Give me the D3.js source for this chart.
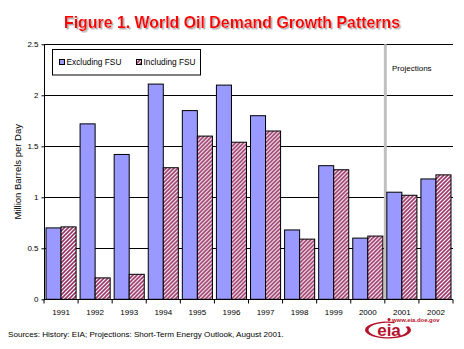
<!DOCTYPE html>
<html><head><meta charset="utf-8">
<script src="https://cdn.jsdelivr.net/npm/d3@7/dist/d3.min.js"></script>
<style>body{margin:0;background:#fff}svg{display:block}</style>
</head><body>
<script>
const years = ["1991","1992","1993","1994","1995","1996","1997","1998","1999","2000","2001","2002"];
const excludingFSU = [0.70,1.72,1.42,2.11,1.85,2.10,1.80,0.68,1.31,0.60,1.05,1.18];
const includingFSU = [0.71,0.21,0.245,1.29,1.60,1.54,1.65,0.59,1.27,0.62,1.02,1.22];
const seriesNames = ["Excluding FSU","Including FSU"];
const yTicks = [0,0.5,1,1.5,2,2.5];
const projectionStart = "2001";

const W=464,H=349;
const svg=d3.select("body").append("svg").attr("width",W).attr("height",H);
const defs=svg.append("defs");
const pat=defs.append("pattern").attr("id","hatch").attr("patternUnits","userSpaceOnUse").attr("width",4).attr("height",4);
pat.append("rect").attr("width",4).attr("height",4).attr("fill","#fff");
pat.append("path").attr("d","M-1,1 l2,-2 M0,4 l4,-4 M3,5 l2,-2").attr("stroke","#993366").attr("stroke-width",1.6);
const flt=defs.append("filter").attr("id","shadow").attr("x","-5%").attr("y","-20%").attr("width","110%").attr("height","140%");
flt.append("feDropShadow").attr("dx",1.5).attr("dy",1.5).attr("stdDeviation",0).attr("flood-color","#b0b0b0").attr("flood-opacity",1);

const L=44,R=453,T=44.3,B=299.3;
const x=d3.scaleBand().domain(years).range([L,R]).padding(0);
const x1=d3.scaleBand().domain(seriesNames).range([2,x.bandwidth()-2]);
const y=d3.scaleLinear().domain([0,2.5]).range([B,T]);
const font="'Liberation Sans', Arial, sans-serif";

// title
const title="Figure 1. World Oil Demand Growth Patterns";
svg.append("text").attr("x",232).attr("y",28).attr("text-anchor","middle").attr("font-family",font).attr("font-weight","bold").attr("font-size",15.9).attr("fill","#ff0000").attr("filter","url(#shadow)").text(title);

// gridlines
svg.append("g").selectAll("line").data(yTicks.filter(d=>d>0)).join("line")
  .attr("x1",L).attr("x2",R).attr("y1",d=>Math.round(y(d))+0.5).attr("y2",d=>Math.round(y(d))+0.5)
  .attr("stroke","#000").attr("stroke-width",1);

// projection divider
svg.append("line").attr("x1",x(projectionStart)+0.5).attr("x2",x(projectionStart)+0.5).attr("y1",T).attr("y2",B)
  .attr("stroke","#c0c0c0").attr("stroke-width",3);

// bars
const groups=svg.append("g").selectAll("g").data(years).join("g").attr("transform",d=>`translate(${x(d)},0)`);
groups.append("rect").attr("x",x1(seriesNames[0])).attr("width",x1.bandwidth())
  .attr("y",(d,i)=>y(excludingFSU[i])).attr("height",(d,i)=>y(0)-y(excludingFSU[i]))
  .attr("fill","#9999ff").attr("stroke","#000").attr("stroke-width",1);
groups.append("rect").attr("x",x1(seriesNames[1])).attr("width",x1.bandwidth())
  .attr("y",(d,i)=>y(includingFSU[i])).attr("height",(d,i)=>y(0)-y(includingFSU[i]))
  .attr("fill","url(#hatch)").attr("stroke","#000").attr("stroke-width",1);

// axes
const yAx=svg.append("g").attr("transform",`translate(${L+0.5},0)`)
  .call(d3.axisLeft(y).tickValues(yTicks).tickSize(3).tickPadding(3).tickFormat(d3.format("")));
yAx.select(".domain").attr("d",`M0,${T}V${B}`);
yAx.selectAll("text").attr("font-family",font).attr("font-size",8);

const xAx=svg.append("g").attr("transform",`translate(0,${Math.round(B)+0.5})`);
xAx.append("line").attr("x1",L).attr("x2",R).attr("stroke","#000");
xAx.selectAll("line.t").data(years.concat(["end"])).join("line").attr("class","t")
  .attr("x1",(d,i)=>i<years.length?x(d):R).attr("x2",(d,i)=>i<years.length?x(d):R)
  .attr("y1",0).attr("y2",4).attr("stroke","#000");
xAx.selectAll("text").data(years).join("text").attr("x",d=>x(d)+x.bandwidth()/2).attr("y",15)
  .attr("text-anchor","middle").attr("font-family",font).attr("font-size",8).text(d=>d);

// y label
svg.append("text").attr("transform",`translate(21,${(T+B)/2}) rotate(-90)`).attr("text-anchor","middle")
  .attr("font-family",font).attr("font-size",9.5).text("Million Barrels per Day");

// legend
const lg=svg.append("g");
lg.append("rect").attr("x",52.5).attr("y",49.5).attr("width",148).attr("height",25.5).attr("fill","#fff").attr("stroke","#000");
const lx=[59,136];
seriesNames.forEach((s,i)=>{
  lg.append("rect").attr("x",lx[i]+0.5).attr("y",59.5).attr("width",5).attr("height",5)
    .attr("fill",i==0?"#9999ff":"url(#hatch)").attr("stroke","#000");
  lg.append("text").attr("x",lx[i]+7.5).attr("y",65).attr("font-family",font).attr("font-size",8.3).text(s);
});

svg.append("text").attr("x",392).attr("y",71).attr("font-family",font).attr("font-size",8).text("Projections");

// sources
svg.append("text").attr("x",8).attr("y",337).attr("font-family",font).attr("font-size",8.1)
  .text("Sources: History:  EIA;  Projections: Short-Term  Energy Outlook, August 2001.");

// eia logo
const red="#b5122a";
const logo=svg.append("g");
logo.append("path").attr("transform","translate(388,330) scale(23,8.5)")
  .attr("d",d3.arc()({innerRadius:0.85,outerRadius:1,startAngle:0.35*Math.PI,endAngle:2.1*Math.PI}))
  .attr("fill",red);
logo.append("text").attr("x",389).attr("y",336).attr("text-anchor","middle").attr("font-family",font).attr("font-weight","bold").attr("font-size",17).attr("fill",red).text("eia");
logo.append("circle").attr("cx",389).attr("cy",319.5).attr("r",1.5).attr("fill",red);
logo.append("text").attr("x",392).attr("y",322).attr("font-family",font).attr("font-weight","bold").attr("font-size",5.9).attr("fill",red).text("www.eia.doe.gov");
</script>
</body></html>
